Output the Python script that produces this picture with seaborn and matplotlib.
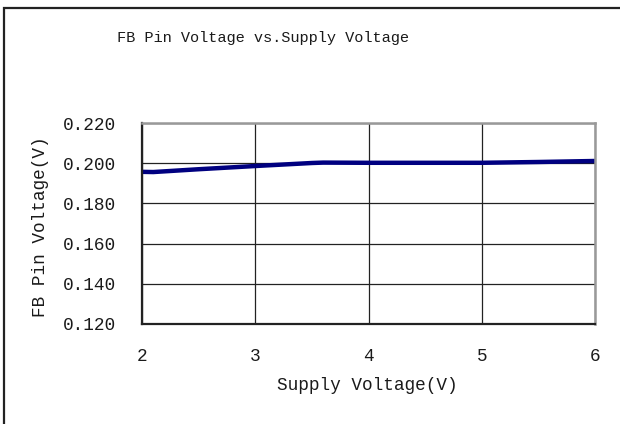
import numpy as np
import pandas as pd
import seaborn as sns
import matplotlib.pyplot as plt
from matplotlib.patches import Rectangle

# values
supply_v = [2.0, 2.1, 2.5, 3.0, 3.5, 3.6, 4.0, 4.5, 5.0, 5.5, 6.0]
fb_v = [0.1957, 0.1956, 0.1970, 0.1986, 0.2001, 0.2003, 0.2002, 0.2002, 0.2002, 0.2006, 0.2011]
x_ticks = [2, 3, 4, 5, 6]
y_ticks = [0.120, 0.140, 0.160, 0.180, 0.200, 0.220]

data = pd.DataFrame({'supply': supply_v, 'fb': fb_v})

sns.set_style("white")
plt.rcParams['font.family'] = ['Liberation Mono', 'DejaVu Sans Mono']

fig = plt.figure(figsize=(6.2, 4.24), dpi=100)
ax = fig.add_axes([142 / 620, 1 - 324 / 424, (595 - 142) / 620, (324 - 123) / 424])

sns.lineplot(data=data, x='supply', y='fb', ax=ax, color='#000080', linewidth=3.2)

ax.set_xlim(2, 6)
ax.set_ylim(0.120, 0.220)
ax.set_xticks(x_ticks)
ax.set_yticks(y_ticks)
ax.set_yticklabels(['{:.3f}'.format(v) for v in y_ticks])
ax.tick_params(axis='both', direction='in', length=5, width=1, labelsize=12.8, colors='#1a1a1a')
ax.tick_params(axis='x', pad=17)
ax.tick_params(axis='y', pad=19)
ax.grid(True, color='#222222', linewidth=0.9)

for side in ['left', 'bottom']:
    ax.spines[side].set_color('#222222')
    ax.spines[side].set_linewidth(1.6)
for side in ['top', 'right']:
    ax.spines[side].set_color('#999999')
    ax.spines[side].set_linewidth(1.8)

ax.set_xlabel('')
ax.set_ylabel('')
fig.text(367 / 620, 1 - 385 / 424, 'Supply Voltage(V)', ha='center', va='center', fontsize=12.8, color='#1a1a1a')
fig.text(41 / 620, 1 - 227 / 424, 'FB Pin Voltage(V)', ha='center', va='center', rotation=90, fontsize=12.8, color='#1a1a1a')
fig.text(263 / 620, 1 - 38 / 424, 'FB Pin Voltage vs.Supply Voltage', ha='center', va='center', fontsize=11, color='#1a1a1a')

# outer frame
fig.patches.append(Rectangle((3.5 / 620, -0.05), 1.1, 1 - 8.5 / 424 + 0.05, transform=fig.transFigure,
                             fill=False, edgecolor='#222222', linewidth=1.6))

fig.savefig('out.png', dpi=100)
